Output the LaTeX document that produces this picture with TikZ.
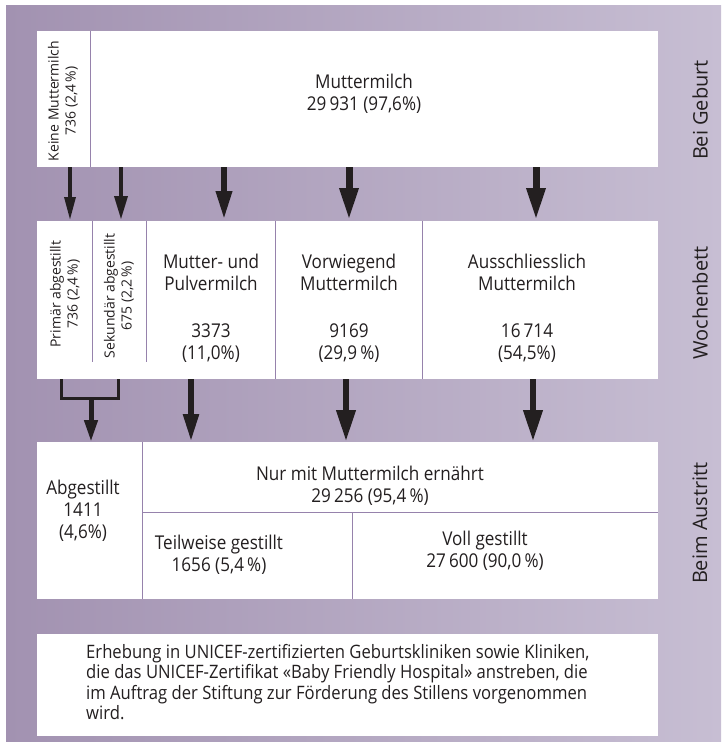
\documentclass[tikz,border=0pt]{standalone}
\usepackage{fontspec}
\setmainfont{Open Sans}
\newfontfamily\condfont[FakeStretch=0.9]{Open Sans}
\usetikzlibrary{arrows.meta}
\definecolor{bgL}{RGB}{162,146,177}
\definecolor{bgR}{RGB}{199,190,211}
\definecolor{divc}{RGB}{150,130,172}
\definecolor{ink}{RGB}{35,31,32}
\tikzset{
  boxfill/.style={fill=white, draw=none, inner sep=0pt, anchor=north west},
  divline/.style={draw=divc, line width=0.9pt},
  maintext/.style={font=\condfont\fontsize{19}{22}\selectfont, text=ink, align=center, inner sep=0pt},
  notetext/.style={font=\condfont\fontsize{18.5}{20.3}\selectfont, text=ink, align=left, inner sep=0pt, anchor=west},
  rottext/.style={font=\fontsize{14}{17}\selectfont, text=ink, align=center, rotate=90, inner sep=0pt},
  sidelabel/.style={font=\fontsize{20}{24}\selectfont, text=ink, rotate=90, inner sep=0pt},
  arrA/.style={draw=ink, line width=3.3pt, -{Triangle[width=11pt,length=23pt]}},
  arrB/.style={draw=ink, line width=4.3pt, -{Triangle[width=12.7pt,length=24pt]}},
  arrC/.style={draw=ink, line width=6.3pt, -{Triangle[width=15pt,length=29pt]}},
  arrD/.style={draw=ink, line width=7pt, -{Triangle[width=17.7pt,length=32pt]}},
  arrE/.style={draw=ink, line width=5pt, -{Triangle[width=12.7pt,length=22pt]}},
  arrF/.style={draw=ink, line width=6pt, -{Triangle[width=14.7pt,length=28pt]}},
  arrG/.style={draw=ink, line width=6.7pt, -{Triangle[width=18pt,length=32pt]}},
  bracketline/.style={draw=ink, line width=3pt, line join=miter},
}
\begin{document}
\begin{tikzpicture}[x=1pt,y=-1pt]
\useasboundingbox (0,0) rectangle (721,742);
\shade[left color=bgL, right color=bgR] (6,5) rectangle (721,742);

% boxes
\node[boxfill, minimum width=621pt, minimum height=136pt] (topbox) at (37,31) {};
\node[boxfill, minimum width=621pt, minimum height=158pt] (midbox) at (37,221) {};
\node[boxfill, minimum width=621pt, minimum height=157pt] (botbox) at (37,442) {};
\node[boxfill, minimum width=621pt, minimum height=102pt] (notebox) at (37,634) {};

% dividers
\draw[divline] (topbox.north -| 90,0) -- (topbox.south -| 90,0);
\draw[divline] (midbox.north -| 92,0) -- (92,362);
\draw[divline] (midbox.north -| 146,0) -- (146,362);
\draw[divline] (midbox.north -| 275,0) -- (midbox.south -| 275,0);
\draw[divline] (midbox.north -| 422,0) -- (midbox.south -| 422,0);
\draw[divline] (botbox.north -| 142,0) -- (botbox.south -| 142,0);
\draw[divline] (142,512) -- (botbox.east |- 0,512);
\draw[divline] (352,512) -- (botbox.south -| 352,0);

% texts top
\node[rottext] (keine) at (63,101) {Keine Muttermilch\\736 (2,4\,\%)};
\node[maintext] (mm) at (364,94) {Muttermilch\\29\,931 (97,6\%)};

% texts middle
\node[rottext] (prim) at (65,294) {Primär abgestillt\\736 (2,4\,\%)};
\node[rottext] (sek) at (119,296) {Sekundär abgestillt\\675 (2,2\,\%)};
\node[maintext] (pulver) at (211,308) {Mutter- und\\Pulvermilch\\[25pt]3373\\(11,0\%)};
\node[maintext] (vorw) at (349,308) {Vorwiegend\\Muttermilch\\[25pt]9169\\(29,9\,\%)};
\node[maintext] (aussch) at (527,308) {Ausschliesslich\\Muttermilch\\[25pt]16\,714\\(54,5\%)};

% texts bottom
\node[maintext] (abg) at (83,511) {Abgestillt\\1411\\(4,6\%)};
\node[maintext] (nur) at (370,486) {Nur mit Muttermilch ernährt\\29\,256 (95,4\,\%)};
\node[maintext] (teil) at (219,555) {Teilweise gestillt\\1656 (5,4\,\%)};
\node[maintext] (voll) at (485,551) {Voll gestillt\\27\,600 (90,0\,\%)};

% note
\node[notetext] (note) at (86,682) {Erhebung in UNICEF-zertifizierten Geburtskliniken sowie Kliniken,\\die das UNICEF-Zertifikat «Baby Friendly Hospital» anstreben, die\\im Auftrag der Stiftung zur Förderung des Stillens vorgenommen\\wird.};

% side labels
\node[sidelabel] (geburt) at (700,110) {Bei Geburt};
\node[sidelabel] (wochen) at (700,303) {Wochenbett};
\node[sidelabel] (austritt) at (700,523) {Beim Austritt};

% arrows top -> middle
\draw[arrA] (topbox.south -| 70,0) -- ([yshift=1pt]midbox.north -| 70,0);
\draw[arrB] (topbox.south -| 121,0) -- ([yshift=1pt]midbox.north -| 121,0);
\draw[arrC] (topbox.south -| 224,0) -- ([yshift=1pt]midbox.north -| 224,0);
\draw[arrD] (topbox.south -| 349,0) -- ([yshift=1pt]midbox.north -| 349,0);
\draw[arrD] (topbox.south -| 536,0) -- ([yshift=1pt]midbox.north -| 536,0);

% bracket and arrows middle -> bottom
\coordinate (brk) at (91,398);
\draw[bracketline] (midbox.south -| 61,0) |- (brk) -| (midbox.south -| 118,0);
\draw[arrE] (brk) -- (botbox.north -| 91,0);
\draw[arrF] (midbox.south -| 191,0) -- (botbox.north -| 191,0);
\draw[arrG] (midbox.south -| 346,0) -- (botbox.north -| 346,0);
\draw[arrG] (midbox.south -| 533,0) -- (botbox.north -| 533,0);
\end{tikzpicture}
\end{document}
